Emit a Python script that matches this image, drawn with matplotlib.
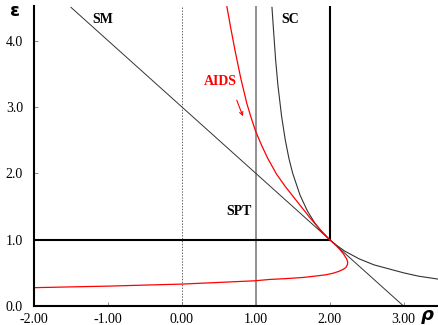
import numpy as np
import matplotlib.pyplot as plt

# SM line (straight)
sm_rho = [-1.5, 3.0]
sm_eps = [4.5, 0.0]

# SC curve
sc_rho = [1.22, 1.24, 1.27, 1.3, 1.35, 1.4, 1.45, 1.5, 1.6, 1.7, 1.8, 1.9, 2.0, 2.1, 2.2, 2.4, 2.6, 2.8, 3.0, 3.2, 3.5]
sc_eps = [4.5, 4.17, 3.7, 3.33, 2.86, 2.5, 2.22, 2.0, 1.67, 1.43, 1.25, 1.11, 1.0, 0.91, 0.83, 0.71, 0.62, 0.56, 0.5, 0.45, 0.4]

# AIDS curve
aids_rho = [0.61, 0.66, 0.72, 0.8, 0.88, 0.94, 1.0, 1.08, 1.16, 1.28, 1.4, 1.51, 1.62, 1.73, 1.86, 2.0,
            2.08, 2.14, 2.19, 2.23, 2.245, 2.24, 2.22, 2.18, 2.12, 2.05, 1.95, 1.8, 1.64, 1.4, 1.19, 0.99,
            0.5, 0.0, -0.5, -0.98, -1.5, -2.0]
aids_eps = [4.51, 4.2, 3.85, 3.42, 3.05, 2.83, 2.63, 2.42, 2.23, 1.99, 1.8, 1.645, 1.49, 1.335, 1.165, 1.0,
            0.92, 0.85, 0.78, 0.71, 0.66, 0.62, 0.58, 0.55, 0.52, 0.495, 0.47, 0.45, 0.43, 0.412, 0.40, 0.38,
            0.355, 0.33, 0.315, 0.30, 0.288, 0.276]

# SPT box
spt_rho = [-2.0, 2.0, 2.0]
spt_eps = [1.0, 1.0, 4.6]

xticks = [-2, -1, 0, 1, 2, 3]
yticks = [0, 1, 2, 3, 4]

plt.rcParams['font.family'] = ['Liberation Serif', 'DejaVu Serif']
plt.rcParams['axes.unicode_minus'] = False

fig = plt.figure(figsize=(4.39, 3.25), dpi=100)
ax = fig.add_axes([34/439, 19/325, 405/439, 300/325])

ax.axvline(0, color='#666666', lw=0.7, ls=(0, (1.5, 1.5)))
ax.axvline(1, color='#888888', lw=1.3)
ax.plot(spt_rho, spt_eps, color='black', lw=1.5)
ax.plot(sm_rho, sm_eps, color='#333333', lw=0.7)
ax.plot(sc_rho, sc_eps, color='#333333', lw=0.8)
ax.plot(aids_rho, aids_eps, color='red', lw=0.9)

ax.text(-1.07, 4.32, 'SM', fontsize=10, fontweight='bold', ha='center', va='center')
ax.text(1.47, 4.32, 'SC', fontsize=10, fontweight='bold', ha='center', va='center')
ax.text(0.52, 3.38, 'AIDS', fontsize=10, fontweight='bold', color='red', ha='center', va='center')
ax.text(0.77, 1.42, 'SPT', fontsize=10, fontweight='bold', ha='center', va='center')
ax.annotate('', xy=(0.84, 2.82), xytext=(0.73, 3.14),
            arrowprops=dict(arrowstyle='->', color='red', lw=0.8, mutation_scale=6))

ax.set_xlim(-2.0, 3.48)
ax.set_ylim(0, 4.52)
ax.set_xticks(xticks)
ax.set_xticklabels(['%.2f' % v for v in xticks])
ax.set_yticks(yticks)
ax.set_yticklabels(['%.1f' % v for v in yticks])
ax.tick_params(direction='in', length=3, width=0.6, color='#777777', labelsize=10)
ax.tick_params(axis='y', pad=8)
ax.tick_params(axis='x', pad=5)

for s in ['top', 'right']:
    ax.spines[s].set_visible(False)
for s in ['left', 'bottom']:
    ax.spines[s].set_linewidth(1.5)

fig.text(14/439, 1 - 12/325, r'$\boldsymbol{\varepsilon}$', fontsize=13, ha='center', va='center')
fig.text(427/439, 1 - 317/325, r'$\boldsymbol{\rho}$', fontsize=13, ha='center', va='center')

fig.savefig('out.png', dpi=100)
